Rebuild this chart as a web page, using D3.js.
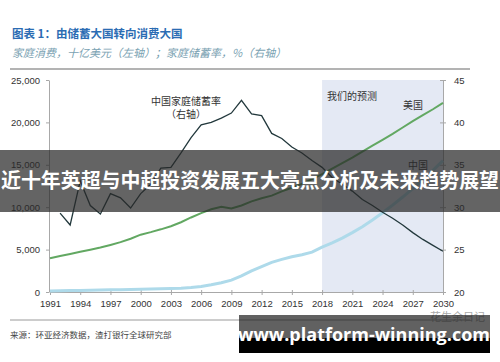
<!DOCTYPE html>
<html>
<head>
<meta charset="utf-8">
<script src="https://cdn.jsdelivr.net/npm/d3@7"></script>
<style>
  body { margin: 0; background: #fff; }
  svg { display: block; }
</style>
</head>
<body>
<div id="chart"></div>
<script>
// data
var years = [1991,1992,1993,1994,1995,1996,1997,1998,1999,2000,2001,2002,2003,2004,2005,2006,2007,2008,2009,2010,
             2011,2012,2013,2014,2015,2016,2017,2018,2019,2020,2021,2022,2023,2024,2025,2026,2027,2028,2029,2030];
// US household consumption, bn USD (left axis)
var usConsumption = [3980,4240,4480,4740,4980,5240,5550,5880,6280,6760,7060,7390,7760,8230,8790,9300,9750,10040,9850,10200,
                     10690,11050,11360,11860,12290,12750,13300,13900,14550,15200,15850,16550,17250,17950,18650,19400,20150,20850,21550,22300];
// China household consumption, bn USD (left axis)
var cnConsumption = [130,150,170,190,210,240,260,280,300,330,350,380,410,450,520,640,850,1100,1400,1900,
                     2500,3000,3500,3850,4150,4400,4700,5300,5800,6350,7000,7700,8500,9350,10250,11200,12200,13250,14350,15500];
// China household savings rate, % (right axis), from 1992
var savingYears = [1992,1993,1994,1995,1996,1997,1998,1999,2000,2001,2002,2003,2004,2005,2006,2007,2008,2009,2010,
                   2011,2012,2013,2014,2015,2016,2017,2018,2019,2020,2021,2022,2023,2024,2025,2026,2027,2028,2029,2030];
var savingRate = [29.3,27.9,33.1,30.2,29.2,31.6,31.1,29.9,31.6,32.7,34.6,34.7,36.4,38.2,39.7,40.0,40.5,41.1,42.6,
                  41.0,40.8,38.7,38.1,37.1,36.4,35.5,34.7,33.5,32.7,31.9,30.9,30.2,29.4,28.7,27.9,27.0,26.2,25.5,24.8];
var xTicks = [1991,1994,1997,2000,2003,2006,2009,2012,2015,2018,2021,2024,2027,2030];
var leftTicks = [0,5000,10000,15000,20000,25000];
var rightTicks = [20,25,30,35,40,45];
var forecastRange = [2018, 2030];

var W = 500, H = 362;
var svg = d3.select("#chart").append("svg")
    .attr("width", W).attr("height", H);

var x = d3.scaleLinear().domain([1991, 2030]).range([50, 443]);
var yL = d3.scaleLinear().domain([0, 25000]).range([292, 80]);
var yR = d3.scaleLinear().domain([20, 45]).range([292, 80]);

var tickFont = "'Liberation Sans', Arial, sans-serif";
var cjk = "'Noto Sans CJK SC', sans-serif";

// header
svg.append("text").attr("x", 12).attr("y", 38)
  .attr("font-family", cjk).attr("font-weight", "bold").attr("font-size", 11.5)
  .attr("fill", "#2b6cb3").text("图表 1：由储蓄大国转向消费大国");
svg.append("text").attr("x", 12).attr("y", 57)
  .attr("font-family", cjk).attr("font-style", "italic").attr("font-size", 11)
  .attr("fill", "#7aa2b2").text("家庭消费，十亿美元（左轴）；家庭储蓄率，%（右轴）");
svg.append("line").attr("x1", 10).attr("x2", 470).attr("y1", 69).attr("y2", 69)
  .attr("stroke", "#9a9a9a").attr("stroke-width", 1.5);

// forecast shading
svg.append("rect")
  .attr("x", x(forecastRange[0])).attr("y", yL(25000))
  .attr("width", x(forecastRange[1]) - x(forecastRange[0]))
  .attr("height", yL(0) - yL(25000))
  .attr("fill", "#e4e9f4");

// axes
var xAxis = svg.append("g").attr("transform", "translate(0,292)")
  .call(d3.axisBottom(x).tickValues(xTicks).tickFormat(d3.format("d")).tickSizeInner(3).tickSizeOuter(0).tickPadding(5));
var leftAxis = svg.append("g").attr("transform", "translate(49,0)")
  .call(d3.axisLeft(yL).tickValues(leftTicks).tickFormat(d3.format(",")).tickSizeInner(3).tickSizeOuter(0).tickPadding(6));
var rightAxis = svg.append("g").attr("transform", "translate(443,0)")
  .call(d3.axisRight(yR).tickValues(rightTicks).tickSizeInner(3).tickSizeOuter(0).tickPadding(8));
[xAxis, leftAxis, rightAxis].forEach(function(g) {
  g.select(".domain").attr("stroke", "#a8a8a8");
  g.selectAll(".tick line").attr("stroke", "#a8a8a8");
  g.selectAll(".tick text").attr("font-family", tickFont).attr("font-size", 9.5).attr("fill", "#333");
});
rightAxis.selectAll(".tick line").attr("x1", -3);
xAxis.selectAll(".tick line").attr("y1", -2);

// lines
var line = d3.line().x(function(d) { return x(d[0]); });
svg.append("path")
  .datum(d3.zip(years, cnConsumption))
  .attr("fill", "none").attr("stroke", "#aedaea").attr("stroke-width", 3)
  .attr("d", line.y(function(d) { return yL(d[1]); }));
svg.append("path")
  .datum(d3.zip(years, usConsumption))
  .attr("fill", "none").attr("stroke", "#62a862").attr("stroke-width", 2)
  .attr("d", line.y(function(d) { return yL(d[1]); }));
svg.append("path")
  .datum(d3.zip(savingYears, savingRate))
  .attr("fill", "none").attr("stroke", "#22383c").attr("stroke-width", 1.3)
  .attr("d", line.y(function(d) { return yR(d[1]); }));

// annotations
function note(tx, ty, t, anchor) {
  svg.append("text").attr("x", tx).attr("y", ty)
    .attr("font-family", cjk).attr("font-size", 10).attr("fill", "#333")
    .attr("text-anchor", anchor || "middle").text(t);
}
note(186, 105, "中国家庭储蓄率");
note(186, 118, "（右轴）");
note(327, 100, "我们的预测", "start");
note(413, 109, "美国");
note(418, 169, "中国");

// source
svg.append("line").attr("x1", 10).attr("x2", 470).attr("y1", 320).attr("y2", 320)
  .attr("stroke", "#9a9a9a").attr("stroke-width", 1);
svg.append("text").attr("x", 10).attr("y", 338)
  .attr("font-family", cjk).attr("font-size", 8.5).attr("fill", "#444")
  .text("来源：环亚经济数据，渣打银行全球研究部");

// faint watermark
svg.append("text").attr("x", 485).attr("y", 321).attr("text-anchor", "end")
  .attr("font-family", cjk).attr("font-size", 11).attr("fill", "#aaa").text("花生余日记");

// overlay banner
svg.append("rect").attr("x", 0).attr("y", 150).attr("width", W).attr("height", 62)
  .attr("fill", "rgba(40,40,40,0.72)");
svg.append("text").attr("x", 250).attr("y", 188).attr("text-anchor", "middle")
  .attr("font-family", cjk).attr("font-weight", "bold").attr("font-size", 20)
  .attr("fill", "#fff").attr("textLength", 498).attr("lengthAdjust", "spacingAndGlyphs")
  .text("近十年英超与中超投资发展五大亮点分析及未来趋势展望");

// bottom site label
svg.append("rect").attr("x", 239).attr("y", 315).attr("width", 251).attr("height", 23)
  .attr("fill", "rgba(30,30,30,0.7)");
svg.append("rect").attr("x", 239).attr("y", 338).attr("width", 251).attr("height", 15)
  .attr("fill", "#000");
svg.append("text").attr("x", 364).attr("y", 341).attr("text-anchor", "middle")
  .attr("font-family", "'Open Sans', sans-serif").attr("font-weight", "bold").attr("font-size", 18)
  .attr("fill", "#fff").text("www.platform-winning.com");
</script>
</body>
</html>
